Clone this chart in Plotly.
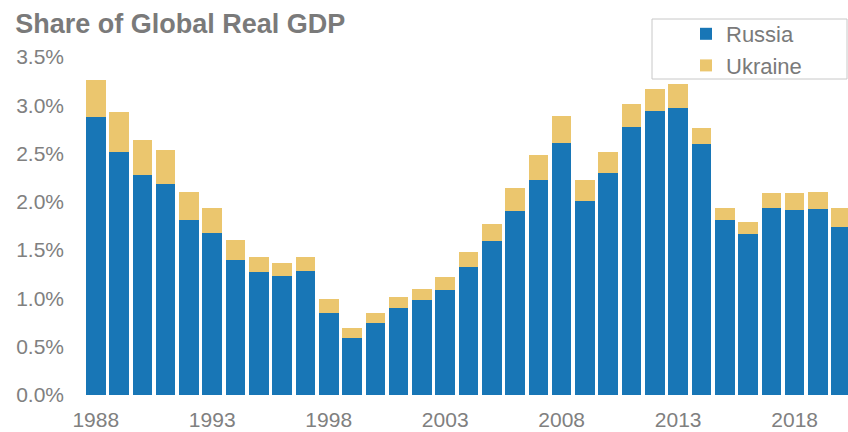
import plotly.graph_objects as go

years = list(range(1988, 2021))
total = [3.26, 2.93, 2.64, 2.54, 2.10, 1.94, 1.60, 1.43, 1.37, 1.43,
         0.99, 0.69, 0.85, 1.02, 1.10, 1.22, 1.48, 1.77, 2.14, 2.49,
         2.89, 2.23, 2.52, 3.01, 3.17, 3.22, 2.77, 1.94, 1.79, 2.09,
         2.09, 2.10, 1.94]
russia = [2.88, 2.52, 2.28, 2.19, 1.81, 1.68, 1.40, 1.27, 1.23, 1.28,
          0.85, 0.59, 0.75, 0.90, 0.98, 1.09, 1.33, 1.59, 1.91, 2.23,
          2.61, 2.01, 2.30, 2.78, 2.94, 2.97, 2.60, 1.81, 1.67, 1.94,
          1.92, 1.93, 1.74]
ukraine = [round(t - r, 3) for t, r in zip(total, russia)]
y_ticks = [0, 0.5, 1.0, 1.5, 2.0, 2.5, 3.0, 3.5]
x_ticks = [1988, 1993, 1998, 2003, 2008, 2013, 2018]

fig = go.Figure()
fig.add_trace(go.Bar(x=years, y=[r / 100 for r in russia], name="Russia",
                     marker=dict(color="#1876b6", line=dict(width=0))))
fig.add_trace(go.Bar(x=years, y=[u / 100 for u in ukraine], name="Ukraine",
                     marker=dict(color="#ebc66e", line=dict(width=0))))

# legend frame (decoration)
fig.add_shape(type="rect", xref="paper", yref="paper",
              x0=(652 - 65) / 783, x1=(847 - 65) / 783,
              y0=(395 - 79) / 338, y1=(395 - 19) / 338,
              line=dict(color="#c8c8c8", width=1), fillcolor="white", layer="below")

fig.update_layout(
    width=848, height=432,
    barmode="stack", bargap=0.16,
    margin=dict(l=65, r=0, t=57, b=37),
    paper_bgcolor="white", plot_bgcolor="rgba(0,0,0,0)",
    font=dict(family="Liberation Sans, Arial, sans-serif", color="#808080", size=21),
    title=dict(text="<b>Share of Global Real GDP</b>", x=0.018, xanchor="left",
               y=0.945, yanchor="middle",
               font=dict(size=27, color="#7a7a7a")),
    legend=dict(x=(686 - 65) / 783, xanchor="left", y=(395 - 13) / 338, yanchor="top",
                traceorder="normal", borderwidth=0,
                bgcolor="rgba(0,0,0,0)", font=dict(size=22, color="#7a7a7a"),
                tracegroupgap=0),
    showlegend=True,
)
fig.update_xaxes(range=[1986.68, 2020.29], tickvals=x_ticks,
                 ticktext=[str(v) for v in x_ticks], showgrid=False,
                 showline=False, zeroline=False, ticks="",
                 ticklabelstandoff=10,
                 tickfont=dict(size=21, color="#808080"))
fig.update_yaxes(range=[0, 0.035], tickvals=[v / 100 for v in y_ticks],
                 ticktext=[f"{v:.1f}%" for v in y_ticks], showgrid=False,
                 zeroline=False, showline=False, ticks="",
                 tickfont=dict(size=21, color="#808080"))

fig.write_html("out.html")
